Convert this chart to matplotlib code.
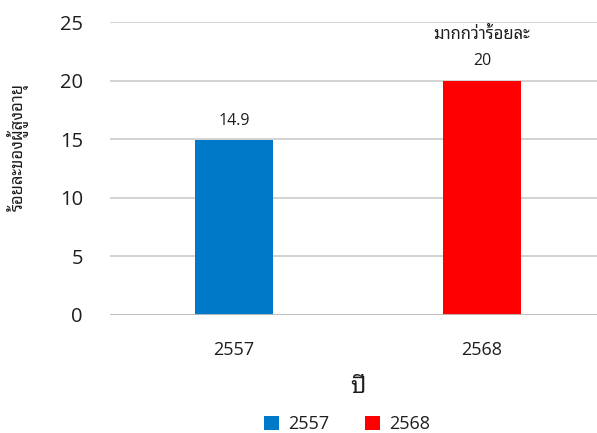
import matplotlib
matplotlib.use('Agg')
import matplotlib.pyplot as plt
from matplotlib.patches import Patch

# Share of elderly population (percent) by Buddhist-era year
years = ['2557', '2568']
share = [14.9, 20]
colors = ['#0079C8', '#FF0000']
value_labels = ['14.9', '20']
note_text = 'มากกว่าร้อยละ'

thai = ['Noto Sans Thai Looped', 'Noto Sans', 'DejaVu Sans']
num = ['Open Sans', 'DejaVu Sans']
ink = '#1e1e1e'

fig = plt.figure(figsize=(5.97, 4.33), dpi=100)
ax = fig.add_axes([110 / 597, 118 / 433, 496 / 597, 293 / 433])

x = range(len(years))
ax.bar(x, share, width=0.315, color=colors, zorder=3)

ax.set_xlim(-0.5, 1.5)
ax.set_ylim(0, 25)
ax.set_yticks(range(0, 26, 5))
ax.yaxis.grid(True, color='#c6c6c6', linewidth=1.1, zorder=0)
ax.axhline(0, color='#bdbdbd', linewidth=1.3, zorder=4)
for s in ax.spines.values():
    s.set_visible(False)
ax.tick_params(axis='both', length=0, colors=ink)
ax.tick_params(axis='y', pad=19.5, labelsize=14.5)
ax.tick_params(axis='x', pad=19, labelsize=13)
ax.set_xticks(list(x))
ax.set_xticklabels(years, family=num)
for t in ax.get_yticklabels():
    t.set_family(num)

for i, v in enumerate(share):
    ax.annotate(value_labels[i], (i, v), xytext=(0, 14), textcoords='offset points',
                ha='center', va='center', fontsize=11.5, family=num, color=ink)
ax.annotate(note_text, (1, share[1]), xytext=(0, 33), textcoords='offset points',
            ha='center', va='center', fontsize=12, family=thai, color=ink)

ax.set_xlabel('ปี', fontsize=17, family=thai, labelpad=11, color=ink)
fig.text(18 / 597, 1 - 147 / 433, 'ร้อยละของผู้สูงอายุ', rotation=90, ha='center', va='center',
         fontsize=12, family=thai, color=ink)

handles = [Patch(facecolor=c) for c in colors]
fig.legend(handles, years, loc='center', bbox_to_anchor=(347 / 597, 1 - 424 / 433), ncol=2,
           frameon=False, prop={'family': num, 'size': 13}, handlelength=0.8, handleheight=0.8,
           columnspacing=2.0, handletextpad=0.5, labelcolor=ink)

fig.savefig('out.png', dpi=100)
